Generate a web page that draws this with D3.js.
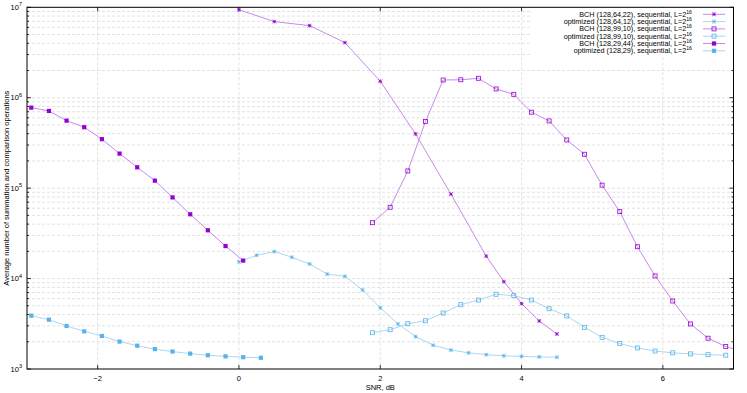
<!DOCTYPE html>
<html>
<head>
<meta charset="utf-8">
<script src="https://cdn.jsdelivr.net/npm/d3@7"></script>
<style>
body { margin: 0; background: #fff; }
text { font-family: "Liberation Sans", Arial, sans-serif; fill: #000; }
</style>
</head>
<body>
<svg id="chart" width="747" height="393"></svg>
<script>
// SNR (dB) and average ops
var snrBch64 = [0, 0.5, 1, 1.5, 2, 2.5, 3, 3.5, 3.75, 4, 4.25, 4.5];
var opsBch64 = [9.4e6, 6.95e6, 6.27e6, 4.07e6, 1.52e6, 3.98e5, 8.6e4, 1.77e4, 9.25e3, 5.28e3, 3.4e3, 2.44e3];

var snrOpt64 = [0, 0.25, 0.5, 0.75, 1, 1.25, 1.5, 1.75, 2, 2.25, 2.5, 2.75, 3, 3.25, 3.5, 3.75, 4, 4.25, 4.5];
var opsOpt64 = [1.53e4, 1.81e4, 1.99e4, 1.72e4, 1.45e4, 1.12e4, 1.06e4, 7.48e3, 4.76e3, 3.15e3, 2.28e3, 1.83e3, 1.62e3, 1.51e3, 1.44e3, 1.40e3, 1.38e3, 1.36e3, 1.35e3];

var snrBch99 = [1.89, 2.14, 2.39, 2.64, 2.89, 3.14, 3.39, 3.64, 3.89, 4.14, 4.39, 4.64, 4.89, 5.14, 5.39, 5.64, 5.89, 6.14, 6.39, 6.64, 6.89, 7.14];
var opsBch99 = [4.15e4, 6.15e4, 1.55e5, 5.45e5, 1.57e6, 1.58e6, 1.64e6, 1.25e6, 1.09e6, 6.92e5, 5.54e5, 3.41e5, 2.37e5, 1.08e5, 5.5e4, 2.25e4, 1.07e4, 5.65e3, 3.15e3, 2.19e3, 1.77e3, 1.55e3];

var snrOpt99 = [1.89, 2.14, 2.39, 2.64, 2.89, 3.14, 3.39, 3.64, 3.89, 4.14, 4.39, 4.64, 4.89, 5.14, 5.39, 5.64, 5.89, 6.14, 6.39, 6.64, 6.89];
var opsOpt99 = [2.52e3, 2.72e3, 3.17e3, 3.42e3, 4.16e3, 5.14e3, 5.79e3, 6.7e3, 6.48e3, 5.79e3, 4.64e3, 3.86e3, 2.89e3, 2.24e3, 1.91e3, 1.71e3, 1.58e3, 1.51e3, 1.47e3, 1.44e3, 1.42e3];

var snrBch29 = [-2.94, -2.69, -2.44, -2.19, -1.94, -1.69, -1.44, -1.19, -0.94, -0.69, -0.44, -0.19, 0.06];
var opsBch29 = [7.77e5, 7.14e5, 5.58e5, 4.72e5, 3.48e5, 2.41e5, 1.70e5, 1.21e5, 7.9e4, 5.14e4, 3.42e4, 2.29e4, 1.58e4];

var snrOpt29 = [-2.94, -2.69, -2.44, -2.19, -1.94, -1.69, -1.44, -1.19, -0.94, -0.69, -0.44, -0.19, 0.06, 0.31];
var opsOpt29 = [3.89e3, 3.51e3, 2.99e3, 2.61e3, 2.32e3, 2.01e3, 1.81e3, 1.66e3, 1.56e3, 1.48e3, 1.42e3, 1.38e3, 1.35e3, 1.33e3];

var xTicks = [-2, 0, 2, 4, 6];
var yDecades = [3, 4, 5, 6, 7];

var seriesNames = [
    "BCH (128,64,22), sequential, L=2",
    "optimized (128,64,12), sequential, L=2",
    "BCH (128,99,10), sequential, L=2",
    "optimized (128,99,10), sequential, L=2",
    "BCH (128,29,44), sequential, L=2",
    "optimized (128,29), sequential, L=2"
];

var purple = "#9400d3", purpleLine = "#c47ae8";
var blue = "#56b4e9", blueLine = "#9fd3f2";

var series = [
    {x: snrBch64, y: opsBch64, color: purple, line: purpleLine, mark: "star"},
    {x: snrOpt64, y: opsOpt64, color: blue, line: blueLine, mark: "star"},
    {x: snrBch99, y: opsBch99, color: purple, line: purpleLine, mark: "open"},
    {x: snrOpt99, y: opsOpt99, color: blue, line: blueLine, mark: "open"},
    {x: snrBch29, y: opsBch29, color: purple, line: purpleLine, mark: "filled"},
    {x: snrOpt29, y: opsOpt29, color: blue, line: blueLine, mark: "filled"}
];

var pL = 27, pR = 733.5, pT = 7.3, pB = 369;

var svg = d3.select("#chart");
var x = d3.scaleLinear().domain([-3, 7]).range([pL, pR]);
var y = d3.scaleLog().domain([1e3, 1e7]).range([pB, pT]);

svg.append("defs").append("clipPath").attr("id", "clip")
    .append("rect").attr("x", pL).attr("y", pT)
    .attr("width", pR - pL).attr("height", pB - pT);

// grid
var yGrid = [];
yDecades.forEach(function(e){
    for (var m = 1; m < 10; m++) {
        var v = m * Math.pow(10, e);
        if (v <= 1e7) yGrid.push({v: v, major: m == 1});
    }
});

var grid = svg.append("g");
grid.selectAll(".hg").data(yGrid.filter(function(d){ return d.v > 1e3 && d.v < 1e7; }))
    .enter().append("line")
    .attr("x1", pL).attr("x2", pR)
    .attr("y1", function(d){ return y(d.v); }).attr("y2", function(d){ return y(d.v); })
    .attr("stroke", "#dadada").attr("stroke-width", 0.8).attr("stroke-dasharray", "3,2");
grid.selectAll(".vg").data(xTicks).enter().append("line")
    .attr("x1", function(d){ return x(d); }).attr("x2", function(d){ return x(d); })
    .attr("y1", pT).attr("y2", pB)
    .attr("stroke", "#dadada").attr("stroke-width", 0.8).attr("stroke-dasharray", "3,2");

// ticks on all four sides, pointing inward
var ticks = svg.append("g").attr("stroke", "#000").attr("stroke-width", 0.8);
yGrid.forEach(function(d){
    var len = d.major ? 4 : 2;
    ticks.append("line").attr("x1", pL).attr("x2", pL + len).attr("y1", y(d.v)).attr("y2", y(d.v));
    ticks.append("line").attr("x1", pR).attr("x2", pR - len).attr("y1", y(d.v)).attr("y2", y(d.v));
});
xTicks.forEach(function(d){
    ticks.append("line").attr("x1", x(d)).attr("x2", x(d)).attr("y1", pB).attr("y2", pB - 4);
    ticks.append("line").attr("x1", x(d)).attr("x2", x(d)).attr("y1", pT).attr("y2", pT + 4);
});

// tick labels
svg.selectAll(".xl").data(xTicks).enter().append("text")
    .attr("x", function(d){ return x(d); }).attr("y", 381)
    .attr("text-anchor", "middle").attr("font-size", 7.5)
    .text(function(d){ return d < 0 ? "\u2212" + Math.abs(d) : d; });

yDecades.forEach(function(e){
    var t = svg.append("text").attr("x", 22).attr("y", y(Math.pow(10, e)) + 2.5)
        .attr("text-anchor", "end").attr("font-size", 7.5);
    t.append("tspan").text("10");
    t.append("tspan").attr("dy", -3.5).attr("font-size", 5.5).text(e);
});

svg.append("text").attr("x", x(2)).attr("y", 390)
    .attr("text-anchor", "middle").attr("font-size", 7.5).text("SNR, dB");
svg.append("text")
    .attr("transform", "translate(9," + ((pT + pB) / 2) + ") rotate(-90)")
    .attr("text-anchor", "middle").attr("font-size", 7.5)
    .text("Average number of summation and comparison operations");

// markers
function drawMark(g, kind, cx, cy, color) {
    if (kind == "star") {
        var r = 1.8;
        g.append("path")
            .attr("d", "M" + (cx - r) + "," + cy + "H" + (cx + r) + "M" + cx + "," + (cy - r) + "V" + (cy + r) +
                "M" + (cx - r) + "," + (cy - r) + "L" + (cx + r) + "," + (cy + r) +
                "M" + (cx - r) + "," + (cy + r) + "L" + (cx + r) + "," + (cy - r))
            .attr("stroke", color).attr("stroke-width", 0.8).attr("fill", "none");
    } else if (kind == "open") {
        g.append("rect").attr("x", cx - 2).attr("y", cy - 2).attr("width", 4).attr("height", 4)
            .attr("fill", "none").attr("stroke", color).attr("stroke-width", 0.8);
    } else {
        g.append("rect").attr("x", cx - 2.1).attr("y", cy - 2.1).attr("width", 4.2).attr("height", 4.2)
            .attr("fill", color);
    }
}

var line = d3.line()
    .x(function(d){ return x(d[0]); })
    .y(function(d){ return y(d[1]); });

var plot = svg.append("g").attr("clip-path", "url(#clip)");
series.forEach(function(s){
    var pts = s.x.map(function(v, i){ return [v, s.y[i]]; });
    plot.append("path").datum(pts).attr("d", line)
        .attr("fill", "none").attr("stroke", s.line).attr("stroke-width", 0.9);
    pts.forEach(function(p){
        drawMark(plot, s.mark, x(p[0]), y(p[1]), s.color);
    });
});

// legend (opaque)
var legend = svg.append("g");
legend.append("rect").attr("x", 530).attr("y", pT + 0.5).attr("width", pR - 530 - 0.5).attr("height", 48)
    .attr("fill", "#fff");
seriesNames.forEach(function(name, i){
    var ly = 14.3 + i * 7.3;
    var t = legend.append("text").attr("x", 692).attr("y", ly + 2.4)
        .attr("text-anchor", "end").attr("font-size", 7.2);
    t.append("tspan").text(name);
    t.append("tspan").attr("dy", -3).attr("font-size", 5.2).text("16");
    legend.append("line").attr("x1", 703).attr("x2", 725).attr("y1", ly).attr("y2", ly)
        .attr("stroke", series[i].line).attr("stroke-width", 0.9);
    drawMark(legend, series[i].mark, 714, ly, series[i].color);
});

// border
svg.append("rect").attr("x", pL).attr("y", pT).attr("width", pR - pL).attr("height", pB - pT)
    .attr("fill", "none").attr("stroke", "#000").attr("stroke-width", 1);
</script>
</body>
</html>
